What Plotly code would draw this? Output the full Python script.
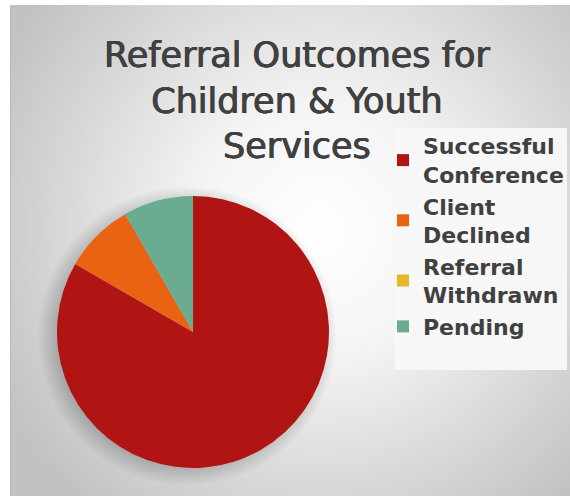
import base64
import plotly.graph_objects as go

categories = ["Successful<br>Conference", "Client<br>Declined", "Referral<br>Withdrawn", "Pending"]
values = [10, 1, 0, 1]
colors = ["#B01513", "#EA6312", "#E6B729", "#6AAC90"]
title_text = "Referral Outcomes for<br>Children & Youth<br>Services"

W, H = 570, 496

svg = f"""<svg xmlns='http://www.w3.org/2000/svg' width='{W}' height='{H}'>
<defs>
<radialGradient id='g' gradientUnits='userSpaceOnUse' cx='320' cy='230' r='360'>
<stop offset='0' stop-color='#ffffff'/>
<stop offset='0.35' stop-color='#f4f4f4'/>
<stop offset='1' stop-color='#c2c2c2'/>
</radialGradient>
<radialGradient id='s' gradientUnits='userSpaceOnUse' cx='187' cy='336' r='150'>
<stop offset='0.85' stop-color='#000000' stop-opacity='0.22'/>
<stop offset='1' stop-color='#000000' stop-opacity='0'/>
</radialGradient>
</defs>
<rect width='{W}' height='{H}' fill='#ffffff'/>
<rect x='10' y='5' width='{W-10}' height='{H-5}' fill='url(#g)'/>
<line x1='10.5' y1='5' x2='10.5' y2='{H}' stroke='#b8b8b8' stroke-width='1'/>
<circle cx='187' cy='336' r='150' fill='url(#s)'/>
</svg>"""
svg_uri = "data:image/svg+xml;base64," + base64.b64encode(svg.encode()).decode()

fig = go.Figure(
    go.Pie(
        labels=categories,
        values=values,
        marker=dict(colors=colors, line=dict(width=0)),
        sort=False,
        direction="clockwise",
        rotation=0,
        textinfo="none",
        hoverinfo="label+percent",
        domain=dict(x=[57 / W, 329 / W], y=[(H - 468) / H, (H - 196) / H]),
        showlegend=True,
    )
)

fig.update_layout(
    width=W,
    height=H,
    margin=dict(l=0, r=0, t=0, b=0),
    paper_bgcolor="rgba(0,0,0,0)",
    plot_bgcolor="rgba(0,0,0,0)",
    images=[dict(source=svg_uri, xref="paper", yref="paper", x=0, y=1,
                 sizex=1, sizey=1, xanchor="left", yanchor="top",
                 sizing="stretch", layer="below")],
    shapes=[dict(type="rect", xref="paper", yref="paper",
                 x0=395 / W, x1=567 / W, y0=1 - 370 / H, y1=1 - 128 / H,
                 fillcolor="rgba(248,248,248,0.95)", line=dict(width=0), layer="below")],
    annotations=[dict(text=title_text, xref="paper", yref="paper",
                      x=297 / W, y=1 - 33 / H, xanchor="center", yanchor="top",
                      showarrow=False, align="center",
                      font=dict(family="DejaVu Sans", size=35, color="#404040",
                                shadow="0.5px 0 0 #404040, -0.5px 0 0 #404040"))],
    legend=dict(
        x=383 / W, y=1 - 125 / H, xanchor="left", yanchor="top",
        bgcolor="rgba(0,0,0,0)",
        font=dict(family="DejaVu Sans", size=22, color="#404040", weight="bold"),
        traceorder="normal",
    ),
)

fig.write_html("out.html", post_script="document.body.style.margin='0';",
               config={"displayModeBar": False})
